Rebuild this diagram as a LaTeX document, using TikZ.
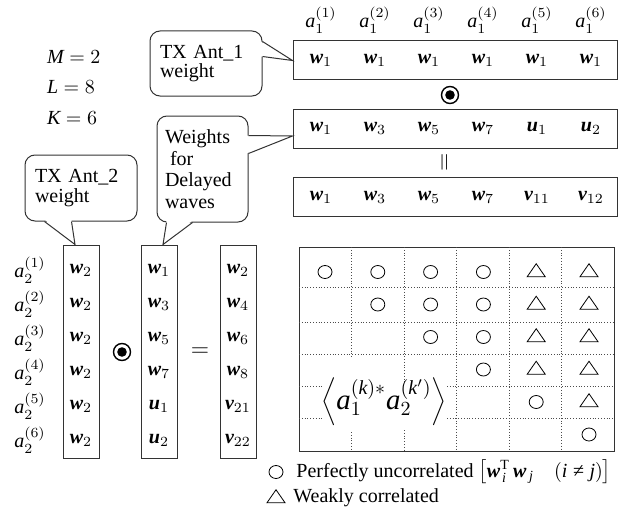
\documentclass[tikz,border=0pt]{standalone}
\usepackage{fontspec}
\setmainfont{Liberation Serif}
\usetikzlibrary{shapes.geometric, positioning}

\newcommand{\bvec}[1]{\mbox{\bfseries\itshape #1}}

\begin{document}
\begin{tikzpicture}[x=0.5pt, y=-0.5pt,
    font=\fontsize{10}{12}\selectfont,
    rowbox/.style={draw=black!80, line width=0.5pt, minimum width=162pt, minimum height=19.5pt},
    colbox/.style={draw=black!80, line width=0.5pt, minimum width=18pt, minimum height=106.5pt},
    bubble/.style={draw=black!80, line width=0.5pt, rounded corners=5pt, fill=white, align=left, inner xsep=5pt},
    tail/.style={draw=black!80, line width=0.5pt},
    opdot/.style={circle, draw, line width=0.7pt, minimum size=8.5pt, inner sep=0pt, path picture={\fill (path picture bounding box.center) circle (2.4pt);}},
    ucirc/.style={ellipse, draw, line width=0.4pt, minimum width=7pt, minimum height=6.5pt, inner sep=0pt},
    wtri/.style={isosceles triangle, isosceles triangle stretches, shape border rotate=90, draw, line width=0.4pt, minimum width=9pt, minimum height=6.5pt, inner sep=0pt},
    gridline/.style={densely dotted, line width=0.4pt, black!70}
]
\useasboundingbox (0,0) rectangle (641,524);

% system parameters
\node[anchor=west] (pM) at (40,57) {$\mathit{M} = 2$};
\node[anchor=west] (pL) at (40,87) {$\mathit{L} = 8$};
\node[anchor=west] (pK) at (40,118) {$\mathit{K} = 6$};

% weight rows of TX Ant_1
\node[rowbox] (row1) at (455,60.5) {};
\node[rowbox] (row2) at (455,128.5) {};
\node[rowbox] (row3) at (455,197) {};
\foreach \k in {1,...,6} {
    \node (a1-\k) at ({321+54*(\k-1)},20) {$\mathit{a}_1^{(\k)}$};
    \node (r1-\k) at ({321+54*(\k-1)},60.5) {$\bvec{w}_1$};
}
\foreach \v/\i [count=\k] in {w/1, w/3, w/5, w/7, u/1, u/2}
    \node (r2-\k) at ({321+54*(\k-1)},128.5) {$\bvec{\v}_{\i}$};
\foreach \v/\i [count=\k] in {w/1, w/3, w/5, w/7, v/11, v/12}
    \node (r3-\k) at ({321+54*(\k-1)},197) {$\bvec{\v}_{\i}$};
\node[opdot] (dotrow) at (450,95) {};
\node[rotate=90, font=\large] (eqrow) at (446,162) {$=$};

% weight columns of TX Ant_2
\node[colbox] (col1) at (81,351.5) {};
\node[colbox] (col2) at (159,351.5) {};
\node[colbox] (col3) at (238,351.5) {};
\foreach \k in {1,...,6} {
    \node (a2-\k) at (30,{270+34*(\k-1)}) {$\mathit{a}_2^{(\k)}$};
    \node (c1-\k) at (81,{270+34*(\k-1)}) {$\bvec{w}_2$};
}
\foreach \v/\i [count=\k] in {w/1, w/3, w/5, w/7, u/1, u/2}
    \node (c2-\k) at (159,{270+34*(\k-1)}) {$\bvec{\v}_{\i}$};
\foreach \v/\i [count=\k] in {w/2, w/4, w/6, w/8, v/21, v/22}
    \node (c3-\k) at (238,{270+34*(\k-1)}) {$\bvec{\v}_{\i}$};
\node[opdot] (dotcol) at (122,352) {};
\node[font=\large] (eqcol) at (200,352) {$=$};

% callouts
\node[bubble, text width=46pt, minimum height=32.5pt, font=\fontsize{10}{9.7}\selectfont] (ant1) at (206,63.5) {TX Ant\_1\\weight};
\node[bubble, text width=37.5pt, inner xsep=4pt, minimum height=53pt, font=\fontsize{10}{10.8}\selectfont] (wts) at (202.5,169) {Weights\\\hspace*{0.25em}for\\Delayed\\waves};
\node[bubble, text width=46pt, minimum height=33pt, font=\fontsize{10}{9.7}\selectfont] (ant2) at (81,188) {TX Ant\_2\\weight};

% callout tails
\fill[white] ([xshift=-1pt,yshift=-5.5pt]ant1.north east) -- (row1.west) -- ([xshift=-1pt,yshift=-13pt]ant1.north east) -- cycle;
\draw[tail] ([yshift=-5.5pt]ant1.north east) -- (row1.west) -- ([yshift=-13pt]ant1.north east);
\fill[white] ([xshift=-1pt,yshift=-10pt]wts.north east) -- ([yshift=-3.75pt]row2.west) -- ([xshift=-1pt,yshift=-19pt]wts.north east) -- cycle;
\draw[tail] ([yshift=-10pt]wts.north east) -- ([yshift=-3.75pt]row2.west) -- ([yshift=-19pt]wts.north east);
\fill[white] ([xshift=5pt,yshift=1pt]wts.south west) -- ([xshift=2pt]col2.north) -- ([xshift=18pt,yshift=1pt]wts.south west) -- cycle;
\draw[tail] ([xshift=5pt]wts.south west) -- ([xshift=2pt]col2.north) -- ([xshift=18pt]wts.south west);
\fill[white] ([xshift=10pt,yshift=1pt]ant2.south west) -- ([xshift=-3pt]col1.north) -- ([xshift=23.5pt,yshift=1pt]ant2.south west) -- cycle;
\draw[tail] ([xshift=10pt]ant2.south west) -- ([xshift=-3pt]col1.north) -- ([xshift=23.5pt]ant2.south west);

% correlation table
\node[draw=black!80, line width=0.5pt, minimum width=157.5pt, minimum height=102pt] (grid) at (456.5,349) {};
\draw[gridline] (351.5,247) -- (351.5,357) (351.5,432) -- (351.5,451);
\draw[gridline] (404,247) -- (404,383) (404,430) -- (404,451);
\draw[gridline] (456.5,247) -- (456.5,451);
\draw[gridline] (509,247) -- (509,451);
\draw[gridline] (561.5,247) -- (561.5,451);
\draw[gridline] (299,287) -- (614,287);
\draw[gridline] (299,322) -- (614,322);
\draw[gridline] (299,354) -- (614,354);
\draw[gridline] (299,386) -- (323,386) (447,386) -- (614,386);
\draw[gridline] (299,418) -- (323,418) (447,418) -- (614,418);
\foreach \r/\c in {1/1,1/2,1/3,1/4,2/2,2/3,2/4,3/3,3/4,4/4,5/5,6/6}
    \node[ucirc] (s\r-\c) at ({325+52.8*(\c-1)},{272+32.5*(\r-1)}) {};
\foreach \r/\c in {1/5,1/6,2/5,2/6,3/5,3/6,4/5,4/6,5/6}
    \node[wtri] (s\r-\c) at ({325+52.8*(\c-1)},{272+32.5*(\r-1)}) {};
\node[font=\Large] (corr) at (384,402) {$\left\langle \mathit{a}_1^{(\mathit{k})*}\mathit{a}_2^{(\mathit{k}')}\right\rangle$};

% legend
\node[ucirc] (legc) at (276,472) {};
\node[right=3pt of legc] (legctext) {Perfectly uncorrelated $\bigl[\bvec{w}_{\mkern2mu\mathit{i}}^{\mathrm{T}}\,\bvec{w}_{\mkern3mu\mathit{j}}\quad(\mathit{i}\mathrel{\mbox{≠}}\mathit{j})\bigr]$};
\node[wtri] (legt) at (276,498) {};
\node[right=2pt of legt] (legttext) {Weakly correlated};

\end{tikzpicture}
\end{document}
